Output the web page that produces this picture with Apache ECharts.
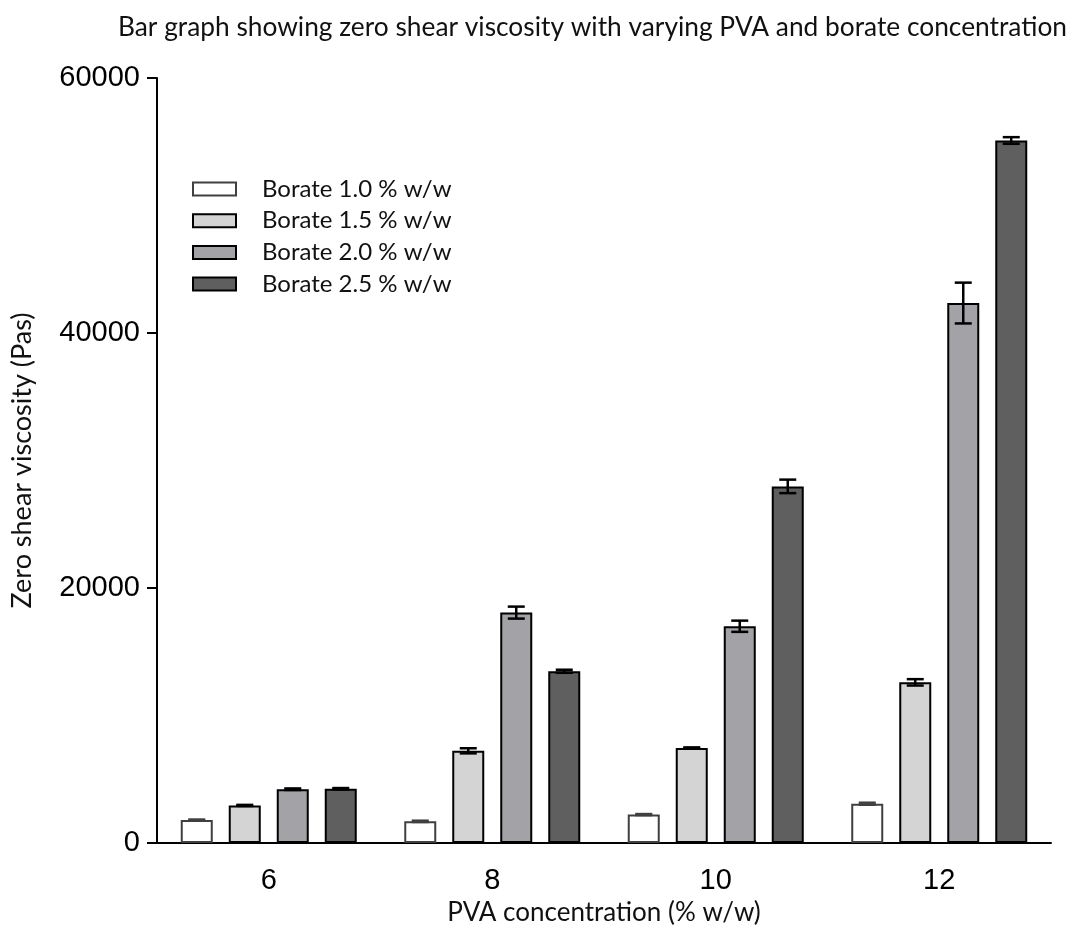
<!DOCTYPE html>
<html>
<head>
<meta charset="utf-8">
<script src="https://cdn.jsdelivr.net/npm/echarts@6/dist/echarts.min.js"></script>
<style>
  html, body { margin: 0; padding: 0; background: #fff; }
  #chart { width: 1077px; height: 937px; }
</style>
</head>
<body>
<div id="chart"></div>
<script>
// PVA concentration groups (% w/w)
const categories = ['6', '8', '10', '12'];
const seriesNames = ['Borate 1.0 % w/w', 'Borate 1.5 % w/w', 'Borate 2.0 % w/w', 'Borate 2.5 % w/w'];

// Zero shear viscosity (Pas), mean per borate level
const borate10 = [1800, 1700, 2230, 3080];
const borate15 = [2950, 7230, 7460, 12600];
const borate20 = [4220, 18070, 17000, 42350];
const borate25 = [4250, 13470, 27970, 55100];

// Error (± Pas) per borate level
const borate10Err = [40, 50, 40, 80];
const borate15Err = [40, 200, 40, 250];
const borate20Err = [60, 470, 440, 1600];
const borate25Err = [60, 120, 530, 260];

const yTicks = [0, 20000, 40000, 60000];

const means = [borate10, borate15, borate20, borate25];
const errs = [borate10Err, borate15Err, borate20Err, borate25Err];
const fills = ['#ffffff', '#d4d4d4', '#a3a2a7', '#5f5f5f'];
const borders = ['#404040', '#000000', '#000000', '#000000'];

const BAR_W = 32;
const BAR_GAP = 16;
const CAP_W = 17;

const barSeries = seriesNames.map((name, i) => ({
  name: name,
  type: 'bar',
  data: means[i],
  barWidth: BAR_W,
  barGap: (BAR_GAP / BAR_W * 100) + '%',
  itemStyle: { color: fills[i], borderColor: borders[i], borderWidth: 2 },
  z: 2
}));

// [categoryIndex, seriesIndex, low, high]
const errData = [];
means.forEach((arr, s) => {
  arr.forEach((v, c) => {
    errData.push([c, s, v - errs[s][c], v + errs[s][c]]);
  });
});

const errorSeries = {
  type: 'custom',
  name: 'error',
  data: errData,
  encode: { x: 0, y: [2, 3] },
  z: 5,
  silent: true,
  renderItem: function (params, api) {
    const c = api.value(0), s = api.value(1);
    const lo = api.value(2), hi = api.value(3);
    const n = seriesNames.length;
    const cx = api.coord([c, 0])[0] + (s - (n - 1) / 2) * (BAR_W + BAR_GAP);
    const yLo = api.coord([c, lo])[1];
    const yHi = api.coord([c, hi])[1];
    const style = { stroke: borders[s], lineWidth: 2.5 };
    return {
      type: 'group',
      children: [
        { type: 'line', shape: { x1: cx, y1: yLo, x2: cx, y2: yHi }, style: style },
        { type: 'line', shape: { x1: cx - CAP_W / 2, y1: yHi, x2: cx + CAP_W / 2, y2: yHi }, style: style },
        { type: 'line', shape: { x1: cx - CAP_W / 2, y1: yLo, x2: cx + CAP_W / 2, y2: yLo }, style: style }
      ]
    };
  }
};

const chart = echarts.init(document.getElementById('chart'), null, { renderer: 'canvas' });
chart.setOption({
  animation: false,
  backgroundColor: '#ffffff',
  title: {
    text: 'Bar graph showing zero shear viscosity with varying PVA and borate concentration',
    left: 118,
    top: 15,
    padding: 0,
    textStyle: { fontFamily: 'Lato', fontSize: 26.3, fontWeight: 'normal', color: '#111' }
  },
  legend: {
    data: seriesNames,
    orient: 'vertical',
    left: 192,
    top: 177,
    padding: 0,
    itemWidth: 43,
    itemHeight: 13,
    itemGap: 7.7,
    icon: 'rect',
    selectedMode: false,
    textStyle: {
      fontFamily: 'Lato', fontSize: 24, color: '#111',
      lineHeight: 24, padding: [0, 0, 0, 21]
    }
  },
  grid: { left: 157, right: 26, top: 78, bottom: 94, containLabel: false },
  xAxis: {
    type: 'category',
    data: categories,
    name: 'PVA concentration (% w/w)',
    nameLocation: 'middle',
    nameGap: 57,
    nameTextStyle: { fontFamily: 'Lato', fontSize: 26, color: '#111' },
    axisLine: { lineStyle: { color: '#000', width: 2 } },
    axisTick: { alignWithLabel: true, length: 12, lineStyle: { color: '#000', width: 2 } },
    axisLabel: { fontFamily: 'Liberation Sans', fontSize: 29, color: '#000', margin: 23 }
  },
  yAxis: {
    type: 'value',
    min: yTicks[0],
    max: yTicks[yTicks.length - 1],
    interval: yTicks[1] - yTicks[0],
    name: 'Zero shear viscosity (Pas)',
    nameLocation: 'middle',
    nameGap: 121,
    nameTextStyle: { fontFamily: 'Lato', fontSize: 27, color: '#111' },
    axisLine: { show: true, lineStyle: { color: '#000', width: 2 } },
    axisTick: { show: true, length: 10, lineStyle: { color: '#000', width: 2 } },
    splitLine: { show: false },
    axisLabel: {
      fontFamily: 'Liberation Sans', fontSize: 29, color: '#000', margin: 17,
      formatter: function (v) { return String(v); }
    }
  },
  series: barSeries.concat([errorSeries])
});
</script>
</body>
</html>
